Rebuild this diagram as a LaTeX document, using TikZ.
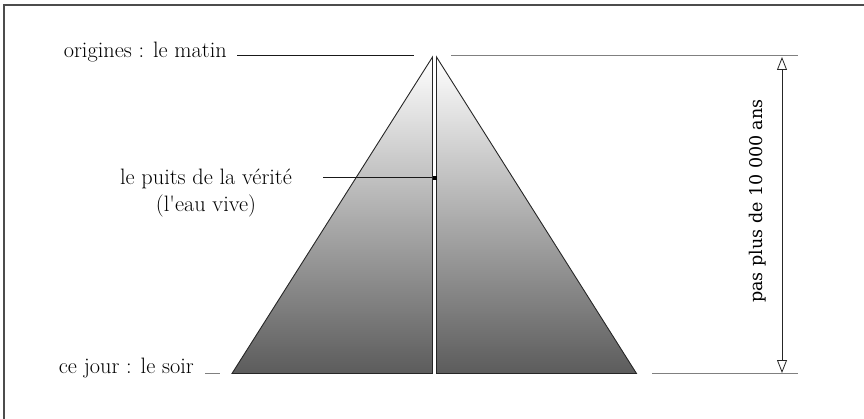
\documentclass[tikz,border=0pt]{standalone}
\usepackage{fontspec}
\newfontfamily\spanfont{DejaVu Serif}
\usetikzlibrary{arrows.meta}

\begin{document}
\begin{tikzpicture}[x=1pt, y=-1pt,
    lbl/.style={font=\fontsize{22.3}{27}\selectfont, inner sep=0pt},
    lead/.style={line width=1pt, black!90},
    guide/.style={line width=1pt, black!50},
    half/.style={draw=black!85, line width=0.9pt, top color=white,
                 bottom color=black!64},
    span/.style={{Triangle[open, length=13pt, width=10pt]}-{Triangle[open, length=13pt, width=10pt]},
                 line width=0.8pt, black!85}]
  \useasboundingbox (0,0) rectangle (864,419);
  % frame
  \draw[black!70, line width=1.5pt] (4,419) -- (4,5) -- (864,5);

  % the two halves of the pyramid
  \coordinate (apexL) at (432.5,57);
  \coordinate (apexR) at (436.5,57);
  \coordinate (baseL) at (232,373.5);
  \coordinate (midL)  at (432.5,373.5);
  \coordinate (midR)  at (436.5,373.5);
  \coordinate (baseR) at (636.5,373.5);
  \path[half] (apexL) -- (baseL) -- (midL) -- cycle;
  \path[half] (apexR) -- (midR) -- (baseR) -- cycle;

  % labels
  \node[lbl, anchor=mid east] (matin) at (227,55) {origines : le matin};
  \node[lbl, anchor=mid east] (soir)  at (194,371.5) {ce jour : le soir};
  \node[lbl, anchor=base] (puits) at (206,185) {le puits de la vérité};
  \node[lbl, anchor=base] (eau)   at (206,212) {(l\textquotesingle eau vive)};
  \node[fill, minimum size=4pt, inner sep=0pt] (well) at (434.5,178) {};

  \coordinate (matinEnd) at (414,56);
  \coordinate (soirEnd)  at (220,373.5);
  \coordinate (topA) at (451,56);
  \coordinate (topB) at (798,56);
  \coordinate (botA) at (652,373.5);
  \coordinate (botB) at (798,373.5);
  \draw[lead] ([xshift=10pt]matin.east |- 0,56) -- (matinEnd);
  \draw[guide] ([xshift=11pt]soir.east |- 0,373.5) -- (soirEnd);
  \draw[lead] (323,178) -- (well);
  \draw[guide] (topA) -- (topB);
  \draw[guide] (botA) -- (botB);

  % height
  \coordinate (spanTop) at (782,57);
  \coordinate (spanBot) at (782,373);
  \draw[span] (spanTop) -- (spanBot);
  \node[rotate=90, inner sep=0pt, font=\spanfont\fontsize{17.5}{20}\selectfont]
    (ans) at (758,201) {pas plus de 10 000 ans};
\end{tikzpicture}
\end{document}
